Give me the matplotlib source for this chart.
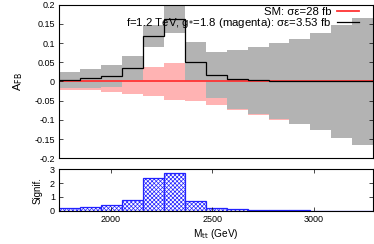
import numpy as np
import matplotlib
matplotlib.use('Agg')
import matplotlib.pyplot as plt

plt.rcParams['font.family'] = ['Liberation Sans', 'DejaVu Sans']
plt.rcParams['font.size'] = 6.5
plt.rcParams['hatch.linewidth'] = 0.5

# bin edges in M_tt (GeV)
edges = [1747, 1850, 1953, 2056, 2159, 2262, 2365, 2468, 2571, 2674, 2777, 2880, 2983, 3086, 3189, 3290]
# signal A_FB and its error
afb_sig = [0.004, 0.008, 0.014, 0.035, 0.118, 0.162, 0.051, 0.017, 0.006, 0.003, 0.001, 0.0005, 0.0, 0.0, 0.0]
err_sig = [0.021, 0.025, 0.028, 0.031, 0.029, 0.036, 0.051, 0.061, 0.077, 0.087, 0.098, 0.110, 0.125, 0.147, 0.164]
# SM A_FB and its error
afb_sm = [0.0] * 15
err_sm = [0.022, 0.023, 0.028, 0.032, 0.039, 0.047, 0.050, 0.061, 0.075, 0.088, 0.100, 0.105, 0.115, 0.125, 0.135]
# significance
signif = [0.17, 0.27, 0.41, 0.78, 2.35, 2.76, 0.73, 0.22, 0.10, 0.07, 0.05, 0.03, 0.0, 0.0, 0.0]

edges = np.array(edges, dtype=float)
afb_sig = np.array(afb_sig); err_sig = np.array(err_sig)
afb_sm = np.array(afb_sm); err_sm = np.array(err_sm)

fig = plt.figure(figsize=(3.74, 2.44), dpi=100)
ax = fig.add_axes([0.158, 0.351, 0.839, 0.630])
ax2 = fig.add_axes([0.158, 0.136, 0.839, 0.170])

ax.stairs(afb_sm + err_sm, edges, baseline=afb_sm - err_sm, fill=True, color='#ffb3b3', lw=0)
ax.stairs(afb_sig + err_sig, edges, baseline=afb_sig - err_sig, fill=True, color='#b3b3b3', lw=0)
ax.stairs(afb_sm, edges, color='#ff3333', lw=1.3, baseline=None, label='SM: σε=28 fb')
ax.stairs(afb_sig, edges, color='black', lw=0.9, baseline=None,
          label='f=1.2 TeV, g$_{*}$=1.8 (magenta): σε=3.53 fb')

ax.set_xlim(edges[0], edges[-1])
ax.set_ylim(-0.2, 0.2)
ax.set_yticks([-0.2, -0.15, -0.1, -0.05, 0, 0.05, 0.1, 0.15, 0.2])
ax.set_yticklabels(['-0.2', '-0.15', '-0.1', '-0.05', '0', '0.05', '0.1', '0.15', '0.2'])
ax.set_xticks([])
ax.tick_params(axis='y', direction='in', right=True, length=3, width=0.5, pad=3)
ax.set_ylabel('A$_{\\rm FB}$', labelpad=7, fontsize=8)
leg = ax.legend(loc='upper right', bbox_to_anchor=(0.955, 0.985), frameon=False,
                markerfirst=False, handlelength=1.9, labelspacing=-0.05, borderaxespad=0.0,
                borderpad=0.0, handletextpad=0.5, fontsize=8.2)

ax2.bar(edges[:-1], signif, width=np.diff(edges), align='edge', facecolor='white',
        edgecolor='#2222ff', hatch='xxxxxxxx', lw=0.9)
ax2.set_xlim(edges[0], edges[-1])
ax2.set_ylim(0, 3)
ax2.set_yticks([0, 1, 2, 3])
ax2.set_xticks([2000, 2500, 3000])
ax2.tick_params(direction='in', right=True, top=True, length=3, width=0.5, pad=3)
ax2.set_ylabel('Signif.', labelpad=5, fontsize=7)
ax2.set_xlabel('M$_{\\rm tt}$ (GeV)', labelpad=2, fontsize=7.3)

for a in (ax, ax2):
    for s in a.spines.values():
        s.set_linewidth(0.8)

fig.savefig('out.png', dpi=100)
